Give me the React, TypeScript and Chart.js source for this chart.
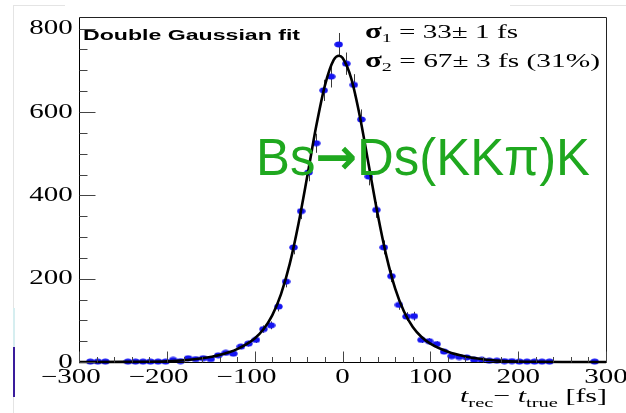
import React, { useEffect, useRef } from "react";
import { Chart, registerables } from "chart.js";

Chart.register(...registerables);

// ---- data ----
const binCenters = [
  -287.1, -278.6, -270.0, -244.3, -235.7, -227.1, -218.6, -210.0, -201.4, -192.9,
  -184.3, -175.7, -167.1, -158.6, -150.0, -141.4, -132.9, -124.3, -115.7, -107.1,
  -98.6, -90.0, -81.4, -72.9, -64.3, -55.7, -47.1, -38.6, -30.0, -21.4,
  -12.9, -4.3, 4.3, 12.9, 21.4, 30.0, 38.6, 47.1, 55.7, 64.3,
  72.9, 81.4, 90.0, 98.6, 107.1, 115.7, 124.3, 132.9, 141.4, 150.0,
  158.6, 167.1, 175.7, 184.3, 192.9, 201.4, 210.0, 218.6, 227.1, 235.7,
  287.1,
];
const binCounts = [
  1, 1, 1, 1, 1, 1, 1, 1, 1, 5,
  2, 9, 7, 9, 7, 16, 22, 20, 37, 44,
  53, 79, 88, 133, 193, 275, 362, 455, 525, 652,
  685, 762, 716, 665, 582, 445, 365, 275, 206, 137,
  109, 110, 53, 50, 43, 25, 14, 12, 11, 5,
  5, 3, 3, 2, 2, 1, 1, 1, 1, 1,
  1,
];
const fitX = [
  -300, -250, -220, -200, -180, -160, -140, -120, -100, -90, -80, -70, -60, -50, -40,
  -30, -20, -10, -4, 0, 10, 20, 30, 40, 50, 60, 70, 80, 90, 100, 120, 140, 160, 180,
  200, 220, 250, 300,
];
const fitY = [
  0, 0.2, 0.7, 1.8, 4.2, 8.8, 17, 31, 56.5, 78.6, 112, 163, 236, 333, 447,
  565, 664, 725, 735, 730, 680, 587, 471, 355, 254, 176, 121, 84, 60, 44, 24.5, 13.2, 6.7, 3.1,
  1.3, 0.5, 0.1, 0,
];
const xTickValues = [-300, -200, -100, 0, 100, 200, 300];
const xTickLabels = ["\u2212300", "\u2212200", "\u2212100", "0", "100", "200", "300"];
const yTickValues = [0, 200, 400, 600, 800];
const yTickLabels = ["0", "200", "400", "600", "800"];
const X_MIN = -300;
const X_MAX = 300;
const Y_MIN = 0;
const Y_MAX = 828;
const X_MINOR_STEP = 20;
const Y_MINOR_STEP = 50;
const fitTitle = "Double Gaussian fit";
const sigma1Text = " = 33\u00b1 1 fs";
const sigma2Text = " = 67\u00b1 3 fs (31%)";
const decayParts = ["Bs", "\u2192", "Ds(KK\u03c0)K"];

const SERIF = '"Liberation Serif", "Times New Roman", serif';
const SANS = '"Liberation Sans", Arial, sans-serif';
const SX = 1.45;

type Run = { text: string; font: string; dy?: number };

function runsWidth(ctx: CanvasRenderingContext2D, runs: Run[]) {
  let w = 0;
  for (const r of runs) {
    ctx.font = r.font;
    w += ctx.measureText(r.text).width;
  }
  return w;
}

function drawRuns(ctx: CanvasRenderingContext2D, runs: Run[], x: number, y: number, sx: number) {
  ctx.save();
  ctx.translate(x, y);
  ctx.scale(sx, 1);
  ctx.textAlign = "left";
  ctx.textBaseline = "alphabetic";
  let cx = 0;
  for (const r of runs) {
    ctx.font = r.font;
    ctx.fillText(r.text, cx, r.dy || 0);
    cx += ctx.measureText(r.text).width;
  }
  ctx.restore();
}

function drawFitted(ctx: CanvasRenderingContext2D, runs: Run[], left: number, right: number, y: number) {
  const w = runsWidth(ctx, runs);
  drawRuns(ctx, runs, left, y, (right - left) / w);
}

const decorPlugin = {
  id: "decor",
  beforeDraw(chart: any) {
    const ctx = chart.ctx as CanvasRenderingContext2D;
    ctx.save();
    ctx.fillStyle = "#ffffff";
    ctx.fillRect(0, 0, chart.width, chart.height);
    ctx.strokeStyle = "#e4e4e4";
    ctx.lineWidth = 1;
    ctx.beginPath();
    ctx.moveTo(13.5, 5);
    ctx.lineTo(13.5, 413);
    ctx.moveTo(13, 5.5);
    ctx.lineTo(65, 5.5);
    ctx.moveTo(510, 5.5);
    ctx.lineTo(626, 5.5);
    ctx.stroke();
    ctx.fillStyle = "#d6eef0";
    ctx.fillRect(13, 308, 2, 39);
    ctx.fillStyle = "#3a1c9c";
    ctx.fillRect(13, 347, 2, 50);
    ctx.restore();
  },
};

const errorBarPlugin = {
  id: "errbars",
  beforeDatasetsDraw(chart: any) {
    const ctx = chart.ctx as CanvasRenderingContext2D;
    const xs = chart.scales.x;
    const ys = chart.scales.y;
    ctx.save();
    ctx.strokeStyle = "#3a3a3a";
    ctx.lineWidth = 1;
    ctx.beginPath();
    binCenters.forEach((c, i) => {
      const n = binCounts[i];
      const e = Math.sqrt(n);
      const px = Math.round(xs.getPixelForValue(c)) + 0.5;
      ctx.moveTo(px, ys.getPixelForValue(Math.min(n + e, Y_MAX)));
      ctx.lineTo(px, ys.getPixelForValue(Math.max(n - e, 0)));
    });
    ctx.stroke();
    ctx.restore();
  },
};

const axesPlugin = {
  id: "rootAxes",
  afterDatasetsDraw(chart: any) {
    const ctx = chart.ctx as CanvasRenderingContext2D;
    const xs = chart.scales.x;
    const ys = chart.scales.y;
    const a = chart.chartArea;
    const L = a.left + 0.5;
    const R = a.right + 0.5;
    const T = a.top + 0.5;
    const B = a.bottom + 0.5;
    ctx.save();
    // frame
    ctx.strokeStyle = "#222";
    ctx.lineWidth = 1;
    ctx.beginPath();
    ctx.moveTo(L, T);
    ctx.lineTo(R, T);
    ctx.lineTo(R, B);
    ctx.stroke();
    ctx.strokeStyle = "#000";
    ctx.beginPath();
    ctx.moveTo(L, T);
    ctx.lineTo(L, B);
    ctx.lineTo(R, B);
    ctx.stroke();
    // ticks
    ctx.strokeStyle = "#444";
    ctx.beginPath();
    for (let v = Y_MIN; v <= Y_MAX; v += Y_MINOR_STEP) {
      const py = Math.round(ys.getPixelForValue(v)) + 0.5;
      const len = v % 200 === 0 ? 16 : 8;
      ctx.moveTo(L, py);
      ctx.lineTo(L + len, py);
    }
    for (let v = X_MIN; v <= X_MAX; v += X_MINOR_STEP) {
      const px = Math.round(xs.getPixelForValue(v)) + 0.5;
      const len = v % 100 === 0 ? 11 : 5.5;
      ctx.moveTo(px, B);
      ctx.lineTo(px, B - len);
    }
    ctx.stroke();

    // tick labels
    ctx.fillStyle = "#000";
    const tickFont = `20px ${SERIF}`;
    yTickValues.forEach((v, i) => {
      const py = ys.getPixelForValue(v);
      ctx.font = tickFont;
      const w = ctx.measureText(yTickLabels[i]).width * SX;
      drawRuns(ctx, [{ text: yTickLabels[i], font: tickFont }], 72.7 - w, py + 5.5, SX);
    });
    xTickValues.forEach((v, i) => {
      const px = xs.getPixelForValue(v);
      const label = xTickLabels[i];
      const digits = label.replace("\u2212", "");
      ctx.font = tickFont;
      const dw = ctx.measureText(digits).width * SX;
      const fw = ctx.measureText(label).width * SX;
      const right = px + dw / 2;
      drawRuns(ctx, [{ text: label, font: tickFont }], right - fw, 383, SX);
    });

    // axis title
    const big = `19px ${SERIF}`;
    const bigI = `italic 19px ${SERIF}`;
    const sub = `13px ${SERIF}`;
    drawFitted(
      ctx,
      [
        { text: "t", font: bigI },
        { text: "rec", font: sub, dy: 5 },
        { text: "\u2212 ", font: big },
        { text: "t", font: bigI },
        { text: "true", font: sub, dy: 5 },
        { text: " [fs]", font: big },
      ],
      460,
      607,
      401.5
    );

    // fit title
    drawFitted(ctx, [{ text: fitTitle, font: `bold 15px ${SANS}` }], 83, 300, 40);

    // sigma texts
    const sf = `19px ${SERIF}`;
    const ssub = `13px ${SERIF}`;
    drawFitted(
      ctx,
      [
        { text: "\u03c3", font: `bold 20px ${SERIF}` },
        { text: "1", font: ssub, dy: 4 },
        { text: sigma1Text, font: sf },
      ],
      365,
      518,
      38.3
    );
    drawFitted(
      ctx,
      [
        { text: "\u03c3", font: `bold 20px ${SERIF}` },
        { text: "2", font: ssub, dy: 4 },
        { text: sigma2Text, font: sf },
      ],
      365,
      600,
      66.7
    );

    // decay label
    ctx.fillStyle = "#1fa81f";
    drawFitted(
      ctx,
      [
        { text: decayParts[0], font: `51px ${SANS}` },
        { text: decayParts[1], font: `bold 50px "DejaVu Sans"`, dy: -1 },
        { text: decayParts[2], font: `51px ${SANS}` },
      ],
      256,
      590,
      175
    );
    ctx.restore();
  },
};

export default function App() {
  const ref = useRef<HTMLCanvasElement>(null);
  useEffect(() => {
    const canvas = ref.current;
    if (!canvas) return;
    const dot = document.createElement("canvas");
    dot.width = 9;
    dot.height = 7;
    const dctx = dot.getContext("2d")!;
    dctx.fillStyle = "#1414f0";
    dctx.beginPath();
    dctx.ellipse(4.5, 3.5, 4.2, 2.9, 0, 0, Math.PI * 2);
    dctx.fill();

    const chart = new Chart(canvas, {
      type: "scatter",
      data: {
        datasets: [
          {
            type: "line",
            label: "fit",
            data: fitX.map((x, i) => ({ x, y: fitY[i] })),
            borderColor: "#000",
            borderWidth: 2.6,
            pointRadius: 0,
            cubicInterpolationMode: "monotone",
            fill: false,
            order: 0,
            clip: false,
          } as any,
          {
            type: "scatter",
            label: "data",
            data: binCenters.map((x, i) => ({ x, y: binCounts[i] })),
            pointStyle: dot,
            pointRadius: 4,
            order: 1,
            clip: false,
          } as any,
        ],
      },
      options: {
        responsive: false,
        animation: false,
        devicePixelRatio: 1,
        events: [],
        layout: { padding: { left: 79, right: 20, top: 17, bottom: 51 } },
        scales: {
          x: { type: "linear", min: X_MIN, max: X_MAX, display: false },
          y: { type: "linear", min: Y_MIN, max: Y_MAX, display: false },
        },
        plugins: { legend: { display: false }, tooltip: { enabled: false } },
      } as any,
      plugins: [decorPlugin, errorBarPlugin, axesPlugin],
    });
    return () => chart.destroy();
  }, []);
  return (
    <div style={{ position: "fixed", left: 0, top: 0, width: 626, height: 413, background: "#fff" }}>
      <canvas ref={ref} width={626} height={413} style={{ display: "block", width: 626, height: 413 }} />
    </div>
  );
}
